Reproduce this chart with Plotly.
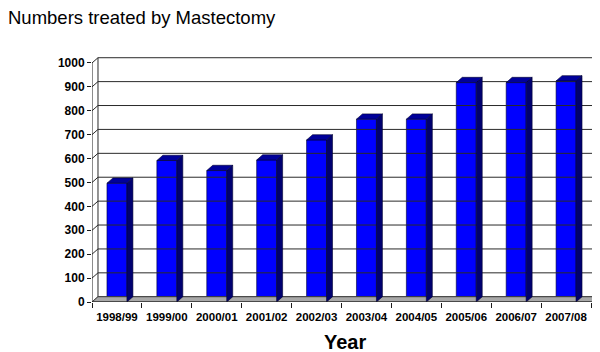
import plotly.graph_objects as go

categories = ["1998/99", "1999/00", "2000/01", "2001/02", "2002/03",
              "2003/04", "2004/05", "2005/06", "2006/07", "2007/08"]
values = [497, 592, 550, 594, 678, 765, 765, 918, 918, 925]
y_ticks = [0, 100, 200, 300, 400, 500, 600, 700, 800, 900, 1000]

# 3D depth styling (in axis units)
DX = 0.12
DY = 22
HW = 0.2
xs = list(range(len(categories)))
xmin, xmax = -0.5, len(categories) - 0.5

fig = go.Figure()

# back wall gridlines
gx, gy = [], []
for t in y_ticks:
    gx += [xmin, xmin + DX, xmax + DX, None]
    gy += [t, t + DY, t + DY, None]
gx += [xmin + DX, xmin + DX, None, xmax + DX, xmax + DX, None]
gy += [DY, y_ticks[-1] + DY, None, DY, y_ticks[-1] + DY, None]
fig.add_trace(go.Scatter(x=gx, y=gy, mode="lines", line=dict(color="#2a2a2a", width=1),
                         hoverinfo="skip", showlegend=False, cliponaxis=False))

# floor
fig.add_trace(go.Scatter(x=[xmin, xmax, xmax + DX, xmin + DX, xmin],
                         y=[0, 0, DY, DY, 0], mode="lines", fill="toself",
                         fillcolor="#a8a8a8", line=dict(color="#333333", width=0.8),
                         hoverinfo="skip", showlegend=False, cliponaxis=False))

# bar side faces
sx, sy = [], []
for i, v in zip(xs, values):
    sx += [i + HW, i + HW + DX, i + HW + DX, i + HW, i + HW, None]
    sy += [0, DY, v + DY, v, 0, None]
fig.add_trace(go.Scatter(x=sx, y=sy, mode="lines", fill="toself", fillcolor="#000070",
                         line=dict(color="#000030", width=0.6),
                         hoverinfo="skip", showlegend=False, cliponaxis=False))
# bar top faces
tx, ty = [], []
for i, v in zip(xs, values):
    tx += [i - HW, i + HW, i + HW + DX, i - HW + DX, i - HW, None]
    ty += [v, v, v + DY, v + DY, v, None]
fig.add_trace(go.Scatter(x=tx, y=ty, mode="lines", fill="toself", fillcolor="#00009a",
                         line=dict(color="#000030", width=0.6),
                         hoverinfo="skip", showlegend=False, cliponaxis=False))

# front axis lines
fig.add_trace(go.Scatter(x=[xmin, xmin, None, xmin, xmax], y=[y_ticks[-1], 0, None, 0, 0],
                         mode="lines", line=dict(color="#1a1a1a", width=1),
                         hoverinfo="skip", showlegend=False, cliponaxis=False))

# front faces
fig.add_trace(go.Bar(x=xs, y=values, width=2 * HW, marker=dict(color="#0000ff",
                     line=dict(color="#000030", width=0.6)), showlegend=False))

# page body has an 8px margin, so the figure is sized to fit in the window
fig.update_layout(
    template="none",
    width=592, height=344,
    margin=dict(l=84, r=3, t=49, b=50, autoexpand=False),
    paper_bgcolor="white", plot_bgcolor="white",
    font=dict(family="Liberation Sans, Arial, sans-serif", color="black"),
    title=dict(text="Numbers treated by Mastectomy", x=0, xref="container", xanchor="left",
               y=0.99, yref="container", yanchor="top", pad=dict(l=0, t=0),
               font=dict(size=18.5, color="black")),
    xaxis=dict(range=[xmin, xmax + DX], tickvals=xs, automargin=False,
               ticktext=["<b>%s</b>" % c for c in categories],
               tickfont=dict(size=11.5), showgrid=False, zeroline=False, showline=False,
               ticklabelstandoff=6,
               ticks="", minor=dict(ticks="outside", tick0=xmin, dtick=1, ticklen=5,
                                     tickcolor="#1a1a1a", showgrid=False)),
    yaxis=dict(range=[0, y_ticks[-1] + DY + 3], tickvals=y_ticks, automargin=False,
               ticktext=["<b>%d</b>" % t for t in y_ticks],
               tickfont=dict(size=12), showgrid=False, zeroline=False, showline=False,
               ticks="outside", ticklen=4, tickcolor="#1a1a1a"),
    annotations=[dict(text="<b>Year</b>", x=0.5, xref="paper", y=-0.165, yref="paper",
                      xanchor="center", yanchor="middle", showarrow=False,
                      font=dict(size=20, color="black"))],
    bargap=0.6,
)

fig.write_html("out.html")
